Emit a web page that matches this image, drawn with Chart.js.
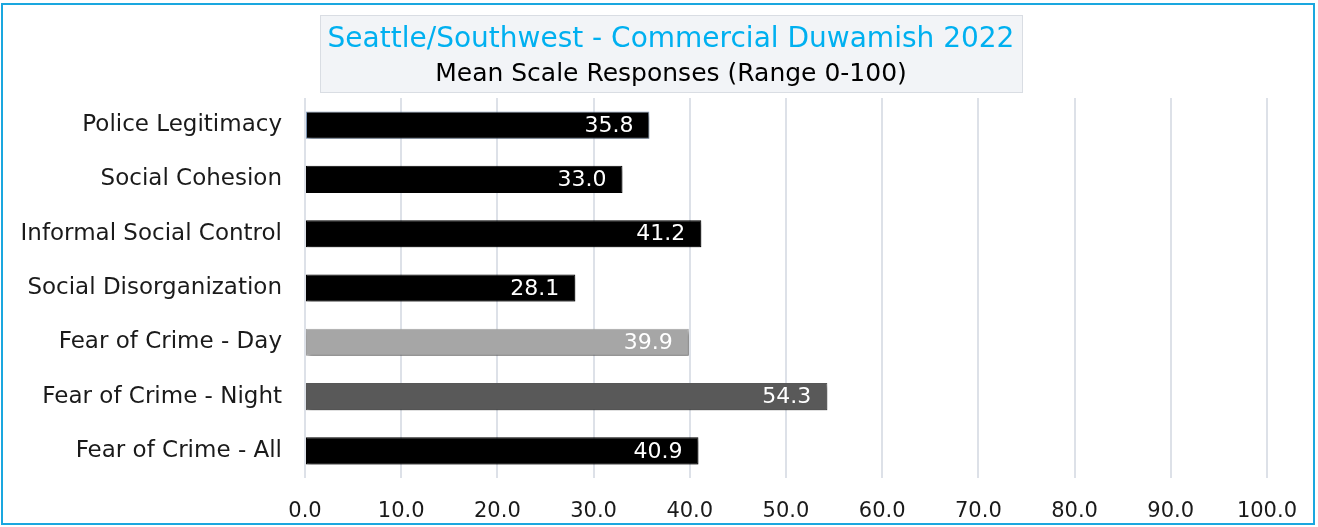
<!DOCTYPE html>
<html>
<head>
<meta charset="utf-8">
<script src="https://cdn.jsdelivr.net/npm/chart.js@4.4.1/dist/chart.umd.min.js"></script>
<style>
  body { margin: 0; background: #ffffff; }
  #wrap { position: relative; width: 1318px; height: 527px; }
  #frame {
    position: absolute; left: 1px; top: 3px; width: 1310px; height: 518px;
    border: 2px solid #1aa7df; pointer-events: none;
  }
</style>
</head>
<body>
<div id="wrap">
  <canvas id="scaleChart" width="1318" height="527"></canvas>
  <div id="frame"></div>
</div>
<script>
// chart data
const categories = [
  "Police Legitimacy",
  "Social Cohesion",
  "Informal Social Control",
  "Social Disorganization",
  "Fear of Crime - Day",
  "Fear of Crime - Night",
  "Fear of Crime - All"
];
const meanValues = [35.8, 33.0, 41.2, 28.1, 39.9, 54.3, 40.9];
const barColors = ["#000000", "#000000", "#000000", "#000000", "#a6a6a6", "#595959", "#000000"];
const barBorders = ["#7f98b8", "#000000", "#000000", "#000000", "#a6a6a6", "#595959", "#000000"];
const titleText = "Seattle/Southwest - Commercial Duwamish 2022";
const subtitleText = "Mean Scale Responses (Range 0-100)";

const FONT = "'DejaVu Sans', sans-serif";

// title box with the two title lines (box is offset from the canvas centre in the original)
const titleBox = {
  id: "titleBox",
  beforeDraw(chart) {
    const ctx = chart.ctx;
    ctx.save();
    ctx.fillStyle = "#f2f4f7";
    ctx.strokeStyle = "#d9dde3";
    ctx.lineWidth = 1;
    ctx.fillRect(320.5, 15.5, 702, 77);
    ctx.strokeRect(320.5, 15.5, 702, 77);
    ctx.textAlign = "center";
    ctx.textBaseline = "middle";
    ctx.fillStyle = "#00b0f0";
    ctx.font = "28px " + FONT;
    ctx.fillText(titleText, 671, 40);
    ctx.fillStyle = "#000000";
    ctx.font = "25px " + FONT;
    ctx.fillText(subtitleText, 671, 74);
    ctx.restore();
  }
};

// soft drop shadow under bars
const barShadow = {
  id: "barShadow",
  beforeDatasetDraw(chart) {
    const ctx = chart.ctx;
    ctx.save();
    ctx.shadowColor = "rgba(0,0,0,0.4)";
    ctx.shadowBlur = 4;
    ctx.shadowOffsetX = 2;
    ctx.shadowOffsetY = 3;
  },
  afterDatasetDraw(chart) {
    chart.ctx.restore();
  }
};

// value labels inside the bar end
const valueLabels = {
  id: "valueLabels",
  afterDatasetsDraw(chart) {
    const ctx = chart.ctx;
    const meta = chart.getDatasetMeta(0);
    ctx.save();
    ctx.font = "22px " + FONT;
    ctx.fillStyle = "#ffffff";
    ctx.textAlign = "right";
    ctx.textBaseline = "middle";
    meta.data.forEach((bar, i) => {
      ctx.fillText(meanValues[i].toFixed(1), bar.x - 16, bar.y + 1);
    });
    ctx.restore();
  }
};

const ctx = document.getElementById("scaleChart").getContext("2d");

new Chart(ctx, {
  type: "bar",
  data: {
    labels: categories,
    datasets: [{
      data: meanValues,
      backgroundColor: barColors,
      borderColor: barBorders,
      borderWidth: 1,
      borderSkipped: false,
      barPercentage: 0.5,
      categoryPercentage: 1.0
    }]
  },
  plugins: [titleBox, barShadow, valueLabels],
  options: {
    indexAxis: "y",
    responsive: false,
    animation: false,
    layout: {
      padding: { left: 10, right: 49, top: 98, bottom: 3 }
    },
    plugins: {
      legend: { display: false },
      tooltip: { enabled: false },
      title: { display: false }
    },
    scales: {
      x: {
        min: 0,
        max: 100,
        afterFit: (scale) => { scale.height = 46; },
        ticks: {
          stepSize: 10,
          padding: 21,
          color: "#1a1a1a",
          font: { family: FONT, size: 21 },
          callback: (v) => Number(v).toFixed(1)
        },
        grid: { color: "#dde1e8", lineWidth: 2, drawTicks: false },
        border: { display: false }
      },
      y: {
        afterFit: (scale) => { scale.width = 295; },
        ticks: {
          padding: 23,
          color: "#1a1a1a",
          font: { family: FONT, size: 23 }
        },
        grid: { display: false, drawTicks: false },
        border: { display: false }
      }
    }
  }
});
</script>
</body>
</html>
